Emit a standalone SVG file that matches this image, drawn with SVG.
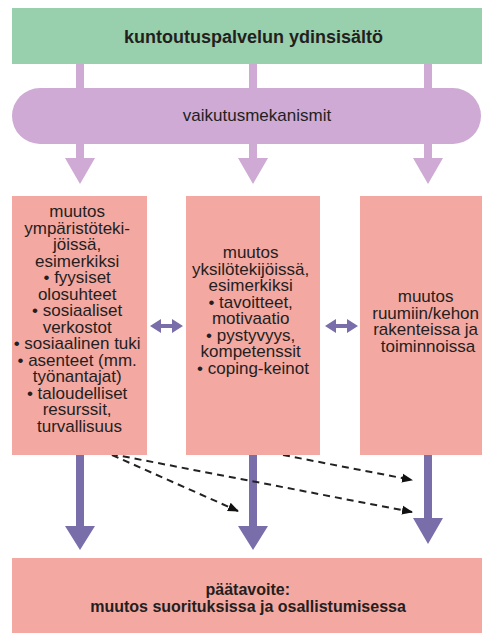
<svg xmlns="http://www.w3.org/2000/svg" width="482" height="633" viewBox="0 0 482 633">
<defs>
<style>
.t{font-family:"Liberation Sans",Arial,sans-serif;fill:#231f20;text-anchor:middle}
.box{font-size:17px}
.b{font-weight:bold}
.green{fill:#98cfac}
.lilac{fill:#ceaad4}
.pink{fill:#f4a8a2}
.dark{fill:#7a6eaa}
.dash{stroke:#222;stroke-width:2;stroke-dasharray:7 5;fill:none}
</style>
<marker id="ah" markerUnits="userSpaceOnUse" markerWidth="12" markerHeight="12" refX="10" refY="6" orient="auto">
<path d="M0,1.5 L11,6 L0,10.5 z" fill="#111"/>
</marker>
</defs>
<rect width="482" height="633" fill="#fff"/>

<g id="connectors">
<!-- green to pill -->
<rect class="lilac" x="76" y="64" width="8" height="26"/>
<rect class="lilac" x="249" y="64" width="8" height="26"/>
<rect class="lilac" x="424" y="64" width="8" height="26"/>
<!-- pill to boxes -->
<path class="lilac" d="M76,142 H84 V158 H95 L80,184 L65,158 H76 Z"/>
<path class="lilac" d="M249,142 H257 V158 H268 L253,184 L238,158 H249 Z"/>
<path class="lilac" d="M424,142 H432 V158 H443 L428,184 L413,158 H424 Z"/>
<!-- boxes to goal -->
<path class="dark" d="M76,455 H84 V526 H95 L80,550 L65,526 H76 Z"/>
<path class="dark" d="M249,455 H257 V526 H268 L253,550 L238,526 H249 Z"/>
<path class="dark" d="M424,455 H432 V518 H443 L428,544 L413,518 H424 Z"/>
<!-- double arrows -->
<path class="dark" d="M150,326 L161,319 V324 H172 V319 L183,326 L172,333 V328 H161 V333 Z"/>
<path class="dark" d="M325,326 L336,319 V324 H347 V319 L358,326 L347,333 V328 H336 V333 Z"/>
<!-- dashed influences -->
<path class="dash" d="M111,454 L412,512" marker-end="url(#ah)"/>
<path class="dash" d="M112,455 L238,511" marker-end="url(#ah)"/>
<path class="dash" d="M283,455 L412,480" marker-end="url(#ah)"/>
</g>

<g id="core">
<rect class="green" x="12" y="8" width="475" height="56"/>
<text class="t b" x="253.5" y="43" font-size="18">kuntoutuspalvelun ydinsisältö</text>
</g>

<g id="mechanisms">
<rect class="lilac" x="12" y="88" width="469" height="56" rx="28" ry="28"/>
<text class="t" x="257" y="121" font-size="17">vaikutusmekanismit</text>
</g>

<g id="environment">
<rect class="pink" x="12" y="196" width="135" height="259"/>
<text class="t box" x="79.5" y="217">
<tspan x="79.5">muutos</tspan>
<tspan x="79.5" dy="16.5">ympäristöteki-</tspan>
<tspan x="79.5" dy="16.5">jöissä,</tspan>
<tspan x="79.5" dy="16.5">esimerkiksi</tspan>
<tspan x="79.5" dy="16.5">• fyysiset</tspan>
<tspan x="79.5" dy="16.5">olosuhteet</tspan>
<tspan x="79.5" dy="16.5">• sosiaaliset</tspan>
<tspan x="79.5" dy="16.5">verkostot</tspan>
<tspan x="79.5" dy="16.5">• sosiaalinen tuki</tspan>
<tspan x="79.5" dy="16.5">• asenteet (mm.</tspan>
<tspan x="79.5" dy="16.5">työnantajat)</tspan>
<tspan x="79.5" dy="16.5">• taloudelliset</tspan>
<tspan x="79.5" dy="16.5">resurssit,</tspan>
<tspan x="79.5" dy="16.5">turvallisuus</tspan>
</text>
</g>

<g id="individual">
<rect class="pink" x="186" y="196" width="134" height="259"/>
<text class="t box" x="253" y="258">
<tspan x="253">muutos</tspan>
<tspan x="253" dy="16.5">yksilötekijöissä,</tspan>
<tspan x="253" dy="16.5">esimerkiksi</tspan>
<tspan x="253" dy="16.5">• tavoitteet,</tspan>
<tspan x="253" dy="16.5">motivaatio</tspan>
<tspan x="253" dy="16.5">• pystyvyys,</tspan>
<tspan x="253" dy="16.5">kompetenssit</tspan>
<tspan x="253" dy="16.5">• coping-keinot</tspan>
</text>
</g>

<g id="body">
<rect class="pink" x="360" y="196" width="127" height="259"/>
<text class="t box" x="428" y="302">
<tspan x="428">muutos</tspan>
<tspan x="428" dy="16.5">ruumiin/kehon</tspan>
<tspan x="428" dy="16.5">rakenteissa ja</tspan>
<tspan x="428" dy="16.5">toiminnoissa</tspan>
</text>
</g>

<g id="goal">
<rect class="pink" x="12" y="558" width="475" height="80"/>
<text class="t b" x="250" y="595" font-size="16">
<tspan x="250">päätavoite:</tspan>
<tspan x="248" dy="17">muutos suorituksissa ja osallistumisessa</tspan>
</text>
</g>
</svg>
